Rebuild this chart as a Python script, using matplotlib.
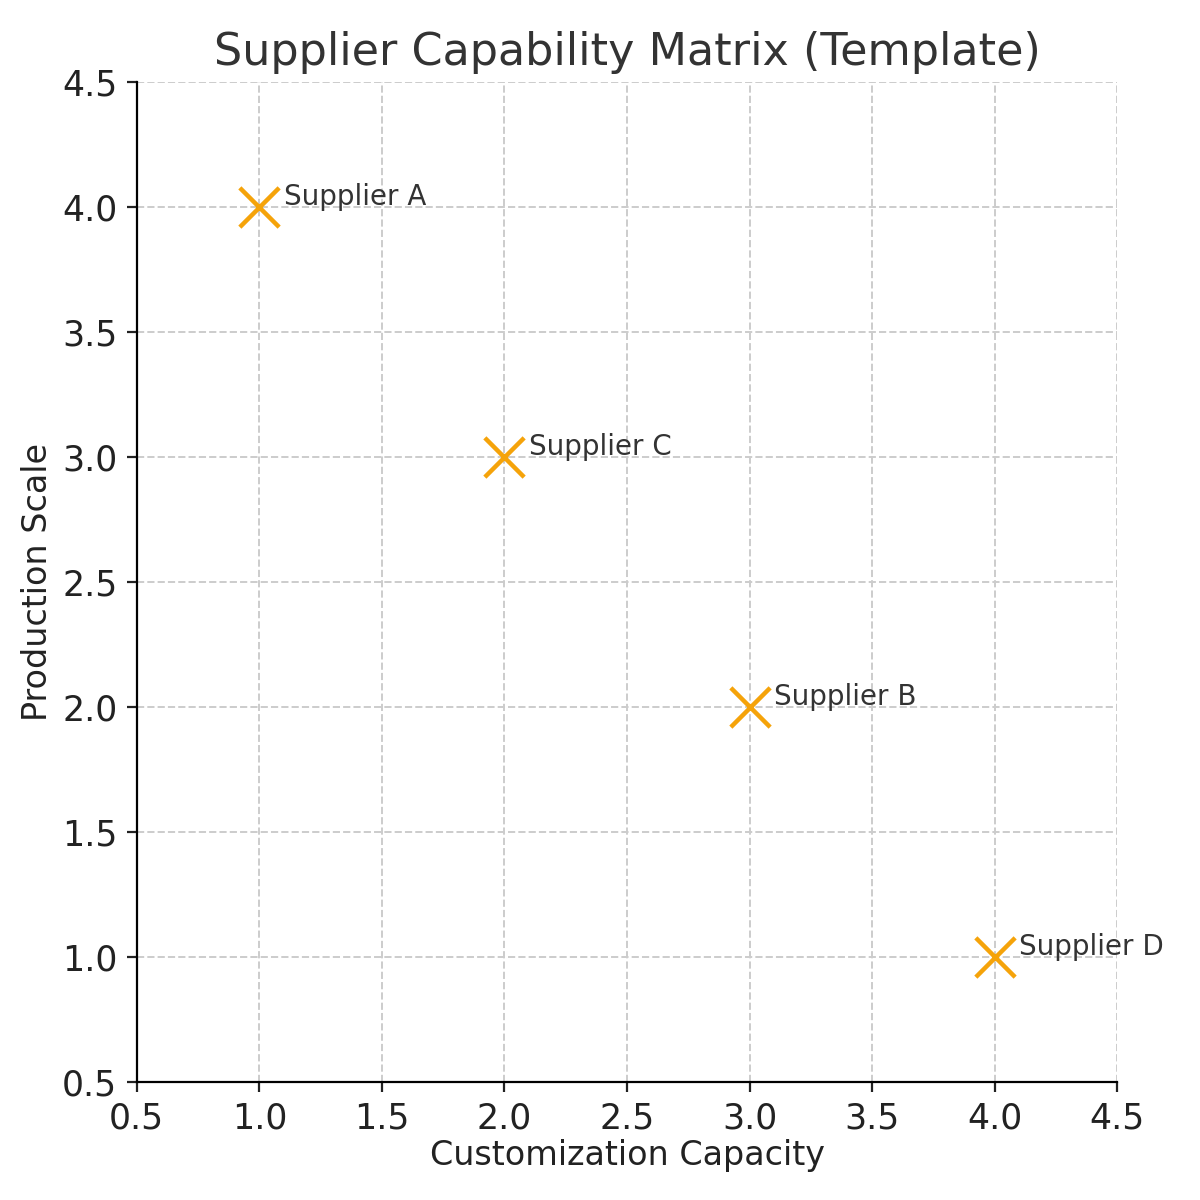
import matplotlib
matplotlib.use("Agg")
import matplotlib.pyplot as plt

suppliers = ["Supplier A", "Supplier B", "Supplier C", "Supplier D"]
customization = [1, 3, 2, 4]
production = [4, 2, 3, 1]

fig = plt.figure(figsize=(6, 6), dpi=200)
ax = fig.add_axes([0.114, 0.098, 0.817, 0.834])

ax.scatter(customization, production, marker="x", s=200, color="#f5a30a", linewidths=1.6, zorder=3)
for name, x, y in zip(suppliers, customization, production):
    ax.text(x + 0.1, y + 0.04, name, fontsize=10, color="#333333", va="center", ha="left")

ax.set_xlim(0.5, 4.5)
ax.set_ylim(0.5, 4.5)
ax.set_xticks([0.5, 1.0, 1.5, 2.0, 2.5, 3.0, 3.5, 4.0, 4.5])
ax.set_yticks([0.5, 1.0, 1.5, 2.0, 2.5, 3.0, 3.5, 4.0, 4.5])
ax.tick_params(labelsize=12.5, colors="#222222")
ax.grid(True, linestyle="--", color="#cccccc", linewidth=0.7)
ax.spines["top"].set_visible(False)
ax.spines["right"].set_visible(False)
ax.set_xlabel("Customization Capacity", fontsize=12, color="#222222", labelpad=1)
ax.set_ylabel("Production Scale", fontsize=12, color="#222222", labelpad=3)
ax.set_title("Supplier Capability Matrix (Template)", fontsize=16, color="#333333", pad=6)

fig.savefig("out.png", dpi=200)
